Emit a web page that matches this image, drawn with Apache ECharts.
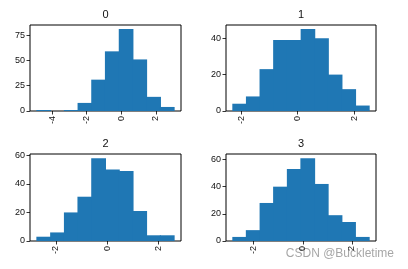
<!DOCTYPE html>
<html>
<head>
<meta charset="utf-8">
<script src="https://cdn.jsdelivr.net/npm/echarts@6/dist/echarts.min.js"></script>
<style>html,body{margin:0;padding:0;background:#fff;}#c{width:408px;height:269px;}</style>
</head>
<body>
<div id="c"></div>
<script>
// ---- data ----
const panelTitles = ['0', '1', '2', '3'];

const edges0 = [-4.88, -4.09, -3.29, -2.50, -1.71, -0.92, -0.12, 0.67, 1.46, 2.26, 3.05];
const counts0 = [1, 0, 1, 8, 31, 59, 81, 51, 14, 4];
const edges1 = [-2.29, -1.81, -1.33, -0.85, -0.37, 0.12, 0.60, 1.08, 1.56, 2.04, 2.52];
const counts1 = [4, 8, 23, 39, 39, 45, 40, 20, 12, 3];
const edges2 = [-2.75, -2.21, -1.67, -1.14, -0.60, -0.06, 0.48, 1.02, 1.55, 2.09, 2.63];
const counts2 = [3, 6, 20, 31, 58, 50, 49, 21, 4, 4];
const edges3 = [-2.85, -2.30, -1.74, -1.19, -0.63, -0.08, 0.48, 1.03, 1.59, 2.14, 2.70];
const counts3 = [3, 8, 28, 40, 53, 61, 42, 19, 14, 3];

const xTicks0 = [-4, -2, 0, 2];
const xTicks1 = [-2, 0, 2];
const xTicks2 = [-2, 0, 2];
const xTicks3 = [-2, 0, 2];
const yTicks0 = [0, 25, 50, 75];
const yTicks1 = [0, 20, 40];
const yTicks2 = [0, 20, 40, 60];
const yTicks3 = [0, 20, 40, 60];

const watermark = 'CSDN @Buckletime';

// ---- layout ----
const panels = [
  { edges: edges0, counts: counts0, xt: xTicks0, yt: yTicks0, left: 30, top: 25, width: 151, height: 86 },
  { edges: edges1, counts: counts1, xt: xTicks1, yt: yTicks1, left: 226, top: 25, width: 150, height: 86 },
  { edges: edges2, counts: counts2, xt: xTicks2, yt: yTicks2, left: 30, top: 154, width: 151, height: 87 },
  { edges: edges3, counts: counts3, xt: xTicks3, yt: yTicks3, left: 226, top: 154, width: 150, height: 87 }
];

const FONT = 'Liberation Sans';
const BAR = '#1f77b4';
const grids = [], xAxes = [], yAxes = [], series = [], titles = [];

function renderItem(params, api) {
  const x0 = api.value(0), x1 = api.value(1), h = api.value(2);
  const p0 = api.coord([x0, h]);
  const p1 = api.coord([x1, 0]);
  // overlap neighbours by 1px so adjacent bars merge without seams
  return {
    type: 'rect',
    shape: { x: p0[0] - 0.5, y: p0[1], width: p1[0] - p0[0] + 1, height: p1[1] - p0[1] },
    style: { fill: BAR }
  };
}

panels.forEach((p, i) => {
  grids.push({ left: p.left, top: p.top, width: p.width, height: p.height,
    show: true, borderColor: '#000', borderWidth: 1, backgroundColor: 'transparent', containLabel: false });
  const lo = p.edges[0], hi = p.edges[p.edges.length - 1], span = hi - lo;
  xAxes.push({
    type: 'value', gridIndex: i, min: lo - 0.05 * span, max: hi + 0.05 * span,
    splitLine: { show: false },
    axisLine: { show: false, onZero: false },
    axisTick: { show: true, length: 3.5, customValues: p.xt, lineStyle: { color: '#000', width: 0.8 } },
    axisLabel: { show: true, customValues: p.xt, rotate: 90, margin: 5, fontSize: 9, fontFamily: FONT, color: '#111',
      formatter: v => String(v) }
  });
  const ymax = Math.max(...p.counts) * 1.05;
  yAxes.push({
    type: 'value', gridIndex: i, min: 0, max: ymax,
    splitLine: { show: false },
    axisLine: { show: false, onZero: false },
    axisTick: { show: true, length: 3.5, customValues: p.yt, lineStyle: { color: '#000', width: 0.8 } },
    axisLabel: { show: true, customValues: p.yt, margin: 5, fontSize: 9, fontFamily: FONT, color: '#111',
      formatter: v => String(v) }
  });
  series.push({
    type: 'custom', xAxisIndex: i, yAxisIndex: i, renderItem: renderItem,
    encode: { x: [0, 1], y: 2 },
    data: p.counts.map((c, k) => [p.edges[k], p.edges[k + 1], c]),
    silent: true, animation: false
  });
  titles.push({
    text: panelTitles[i], left: p.left + p.width / 2, top: p.top - 16, textAlign: 'center', padding: 0,
    textStyle: { fontSize: 11, fontWeight: 'normal', fontFamily: FONT, color: '#111' }
  });
});

const chart = echarts.init(document.getElementById('c'), null, { renderer: 'canvas' });
chart.setOption({
  animation: false,
  backgroundColor: '#fff',
  title: titles,
  grid: grids,
  xAxis: xAxes,
  yAxis: yAxes,
  series: series,
  graphic: [{
    type: 'text', right: 14, top: 248, silent: true,
    style: { text: watermark, fontSize: 12, fontFamily: FONT, fill: 'rgba(150,150,150,0.85)' }
  }]
});
</script>
</body>
</html>
